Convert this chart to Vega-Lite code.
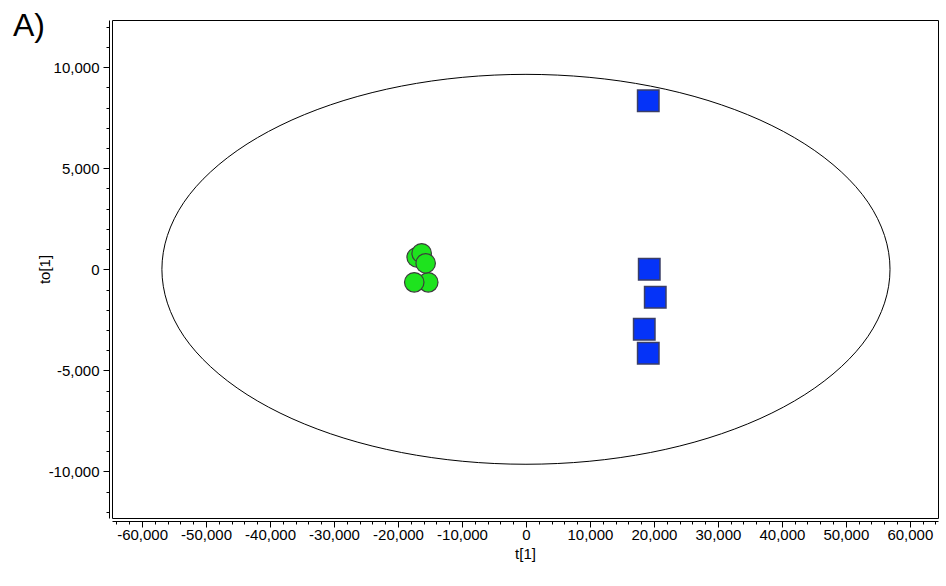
{
  "$schema": "https://vega.github.io/schema/vega-lite/v6.json",
  "width": 826,
  "height": 498,
  "autosize": {"type": "none"},
  "padding": {"left": 112, "top": 20, "right": 8, "bottom": 68},
  "background": "white",
  "title": {"text": "A)", "anchor": "start", "frame": "group", "dx": -99, "dy": 48, "offset": 0, "baseline": "alphabetic", "fontSize": 32, "font": "Liberation Sans", "fontWeight": "normal", "color": "black"},
  "config": {
    "view": {"stroke": "black", "strokeWidth": 1},
    "axis": {"grid": false, "domainColor": "black", "tickColor": "black", "labelColor": "black", "titleColor": "black", "labelFont": "Liberation Sans", "titleFont": "Liberation Sans", "labelFontSize": 15, "titleFontSize": 15, "titleFontWeight": "normal", "offset": 3, "domainWidth": 1, "tickWidth": 1, "labelOverlap": false, "labelFlush": false}
  },
  "datasets": {
    "pts": [
      {"kind": "e", "i": 0, "x": 56900, "y": 0},
      {"kind": "e", "i": 1, "x": 56036, "y": 1676},
      {"kind": "e", "i": 2, "x": 53468, "y": 3315},
      {"kind": "e", "i": 3, "x": 49277, "y": 4825},
      {"kind": "e", "i": 4, "x": 43588, "y": 6203},
      {"kind": "e", "i": 5, "x": 36575, "y": 7391},
      {"kind": "e", "i": 6, "x": 28450, "y": 8357},
      {"kind": "e", "i": 7, "x": 19461, "y": 9068},
      {"kind": "e", "i": 8, "x": 9881, "y": 9503},
      {"kind": "e", "i": 9, "x": 0, "y": 9650},
      {"kind": "e", "i": 10, "x": -9881, "y": 9503},
      {"kind": "e", "i": 11, "x": -19461, "y": 9068},
      {"kind": "e", "i": 12, "x": -28450, "y": 8357},
      {"kind": "e", "i": 13, "x": -36575, "y": 7391},
      {"kind": "e", "i": 14, "x": -43588, "y": 6203},
      {"kind": "e", "i": 15, "x": -49277, "y": 4825},
      {"kind": "e", "i": 16, "x": -53468, "y": 3315},
      {"kind": "e", "i": 17, "x": -56036, "y": 1676},
      {"kind": "e", "i": 18, "x": -56900, "y": 0},
      {"kind": "e", "i": 19, "x": -56036, "y": -1676},
      {"kind": "e", "i": 20, "x": -53468, "y": -3315},
      {"kind": "e", "i": 21, "x": -49277, "y": -4825},
      {"kind": "e", "i": 22, "x": -43588, "y": -6203},
      {"kind": "e", "i": 23, "x": -36575, "y": -7391},
      {"kind": "e", "i": 24, "x": -28450, "y": -8357},
      {"kind": "e", "i": 25, "x": -19461, "y": -9068},
      {"kind": "e", "i": 26, "x": -9881, "y": -9503},
      {"kind": "e", "i": 27, "x": 0, "y": -9650},
      {"kind": "e", "i": 28, "x": 9881, "y": -9503},
      {"kind": "e", "i": 29, "x": 19461, "y": -9068},
      {"kind": "e", "i": 30, "x": 28450, "y": -8357},
      {"kind": "e", "i": 31, "x": 36575, "y": -7391},
      {"kind": "e", "i": 32, "x": 43588, "y": -6203},
      {"kind": "e", "i": 33, "x": 49277, "y": -4825},
      {"kind": "e", "i": 34, "x": 53468, "y": -3315},
      {"kind": "e", "i": 35, "x": 56036, "y": -1676},
      {"kind": "g", "i": 0, "x": -17083, "y": 594},
      {"kind": "g", "i": 1, "x": -16302, "y": 792},
      {"kind": "g", "i": 2, "x": -15270, "y": -644},
      {"kind": "g", "i": 3, "x": -17459, "y": -644},
      {"kind": "g", "i": 4, "x": -15677, "y": 297},
      {"kind": "b", "i": 0, "x": 19116, "y": 8347},
      {"kind": "b", "i": 1, "x": 19272, "y": 0},
      {"kind": "b", "i": 2, "x": 20210, "y": -1386},
      {"kind": "b", "i": 3, "x": 18490, "y": -2970},
      {"kind": "b", "i": 4, "x": 19116, "y": -4158}
    ]
  },
  "data": {"name": "pts"},
  "encoding": {
    "x": {
      "field": "x", "type": "quantitative",
      "scale": {"domain": [-64700, 64400], "nice": false, "zero": false},
      "axis": {
        "title": "t[1]", "titlePadding": 4,
        "values": [-64000,-62000,-60000,-58000,-56000,-54000,-52000,-50000,-48000,-46000,-44000,-42000,-40000,-38000,-36000,-34000,-32000,-30000,-28000,-26000,-24000,-22000,-20000,-18000,-16000,-14000,-12000,-10000,-8000,-6000,-4000,-2000,0,2000,4000,6000,8000,10000,12000,14000,16000,18000,20000,22000,24000,26000,28000,30000,32000,34000,36000,38000,40000,42000,44000,46000,48000,50000,52000,54000,56000,58000,60000,62000,64000],
        "labelExpr": "datum.value % 10000 === 0 ? replace(datum.label, '\u2212', '-') : ''",
        "tickSize": {"condition": {"test": "datum.value % 10000 === 0", "value": 6}, "value": 3},
        "labelPadding": 0
      }
    },
    "y": {
      "field": "y", "type": "quantitative",
      "scale": {"domain": [-12310, 12340], "nice": false, "zero": false},
      "axis": {
        "title": "to[1]", "titlePadding": -4,
        "values": [-12000,-11000,-10000,-9000,-8000,-7000,-6000,-5000,-4000,-3000,-2000,-1000,0,1000,2000,3000,4000,5000,6000,7000,8000,9000,10000,11000,12000],
        "labelExpr": "datum.value % 5000 === 0 ? replace(datum.label, '\u2212', '-') : ''",
        "tickSize": {"condition": {"test": "datum.value % 5000 === 0", "value": 6}, "value": 3},
        "labelPadding": 4
      }
    }
  },
  "layer": [
    {
      "transform": [{"filter": "datum.kind === 'e'"}],
      "mark": {"type": "line", "interpolate": "cardinal-closed", "color": "black", "strokeWidth": 1},
      "encoding": {"order": {"field": "i", "type": "quantitative"}}
    },
    {
      "data": {"values": [{}]},
      "mark": {"type": "rule", "color": "black", "strokeWidth": 1},
      "encoding": {
        "x": {"datum": -64700, "type": "quantitative"},
        "x2": {"datum": 64400},
        "y": {"datum": 0, "type": "quantitative"}
      }
    },
    {
      "data": {"values": [{}]},
      "mark": {"type": "rule", "color": "black", "strokeWidth": 1},
      "encoding": {
        "x": {"datum": 0, "type": "quantitative"},
        "y": {"datum": -12310, "type": "quantitative"},
        "y2": {"datum": 12340}
      }
    },
    {
      "transform": [{"filter": "datum.kind === 'g'"}],
      "mark": {"type": "point", "shape": "circle", "filled": true, "size": 380, "fill": "#1ee31e", "stroke": "#3c3c3c", "strokeWidth": 1.2, "opacity": 1}
    },
    {
      "transform": [{"filter": "datum.kind === 'b'"}],
      "mark": {"type": "point", "shape": "square", "filled": true, "size": 460, "fill": "#0533f8", "stroke": "#3a3e66", "strokeWidth": 1.5, "opacity": 1}
    }
  ]
}
